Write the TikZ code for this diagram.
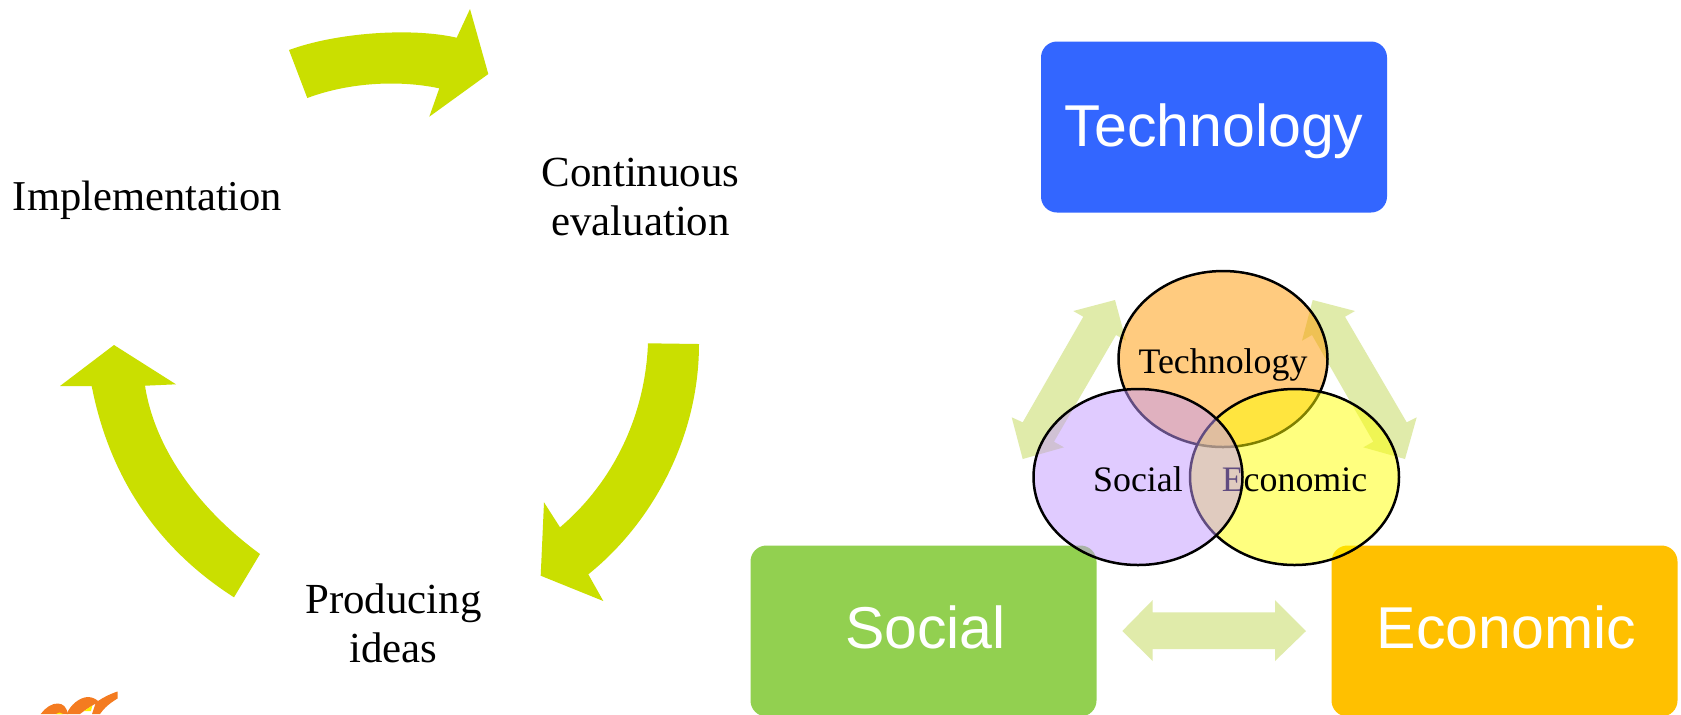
\documentclass[tikz,border=0pt]{standalone}
\usepackage{fontspec}
\setmainfont{Liberation Serif}
\setsansfont{Liberation Sans}
\usetikzlibrary{shapes.geometric}
\definecolor{cyclegreen}{HTML}{CADF00}
\definecolor{palegreen}{HTML}{E0EBAA}
\definecolor{techblue}{HTML}{3366FF}
\definecolor{socialgreen}{HTML}{92D050}
\definecolor{econamber}{HTML}{FFC000}
\definecolor{logoorange}{HTML}{F47B20}
\definecolor{logoyellow}{HTML}{FFF200}
\definecolor{vennorange}{HTML}{FF9900}
\definecolor{vennyellow}{HTML}{FFFF00}
\definecolor{vennviolet}{HTML}{C299FF}
\tikzset{
	cyclearrow/.style={fill=cyclegreen},
	palearrow/.style={fill=palegreen},
	cyclelabel/.style={align=center, font=\fontsize{12.2}{13.9}\selectfont},
	bigbox/.style={rectangle, rounded corners=1.6mm, minimum width=34.6mm, minimum height=17.1mm, inner sep=0pt, text=white, font=\sffamily\fontsize{16.8}{18}\selectfont},
	venn/.style={ellipse, draw=black, line width=0.25mm, minimum width=20.9mm, minimum height=17.6mm, inner sep=0pt, fill opacity=0.5},
	vennlabel/.style={inner sep=0pt, anchor=base, font=\fontsize{10.2}{12}\selectfont}
}
\begin{document}
\begin{tikzpicture}[x=0.1mm, y=-0.1mm]
	%%%%% FRAME %%%%%
	\clip (0, 0) rectangle (1681, 714);
	\fill[white] (0, 0) rectangle (1681, 714);

	%%%%% LEFT CYCLE %%%%%
	\fill[cyclearrow] (289, 50) .. controls (335, 33) and (410, 27) .. (456.7, 37.7) -- (470, 9) -- (488.3, 74) -- (429.3, 116.7) -- (439.3, 88.3) .. controls (400, 80) and (350, 82) .. (307.3, 98) -- cycle;
	\fill[cyclearrow] (699, 344) .. controls (699, 440) and (650, 525) .. (588.3, 574.3) -- (603.3, 601) -- (540.7, 575.7) -- (544, 502.3) -- (560, 527.3) .. controls (610, 485) and (645, 420) .. (648, 343.3) -- cycle;
	\fill[cyclearrow] (234, 597.3) .. controls (160, 550) and (110, 480) .. (91.7, 386) -- (60, 386) -- (114, 345) -- (176, 384.3) -- (145, 385.7) .. controls (155, 450) and (200, 510) .. (260, 554) -- cycle;

	\node[cyclelabel, font=\fontsize{12.1}{13.9}\selectfont] (implementation) at (147.5, 200) {Implementation};
	\node[cyclelabel] (evaluation) at (640.5, 197) {Continuous\\evaluation};
	\node[cyclelabel] (ideas) at (393.5, 623) {Producing\\ideas};

	%%%%% LOGO %%%%%
	\fill[logoorange] (40.7, 714) .. controls (45, 708) and (52, 703) .. (58, 703.5) .. controls (63, 704) and (66, 706) .. (68, 714) -- cycle;
	\fill[logoorange] (66.7, 714) .. controls (70, 705) and (80, 697) .. (88, 697) .. controls (92, 697) and (96, 699) .. (98, 701) .. controls (104, 697) and (110, 694) .. (117.5, 691.5) -- (117.5, 698.5) .. controls (110, 703) and (104, 708) .. (100, 714) -- (92, 714) -- (95.5, 703.5) -- (84, 711) -- (80, 714) -- cycle;
	\fill[logoyellow] (56, 714) .. controls (58, 712) and (61, 712) .. (63, 714) -- cycle;
	\fill[logoyellow] (84, 711) -- (92.3, 705.5) -- (91, 711) -- cycle;

	%%%%% BOXES %%%%%
	\node[bigbox, fill=techblue, text height=14.7pt] (techbox) at (1214, 127) {Technology};
	\node[bigbox, fill=socialgreen, text depth=2pt] (socialbox) at (923.5, 631) {\kern1.1pt Social};
	\node[bigbox, fill=econamber, text depth=2pt] (econbox) at (1504.5, 631) {\kern1.1pt Economic};

	%%%%% PALE ARROWS %%%%%
	\fill[palearrow] (1083.3, 316.7) -- (1073.3, 311) -- (1115, 300) -- (1126, 340.7) -- (1116, 335) -- (1054, 441.7) -- (1064, 447.3) -- (1022.7, 459) -- (1011.7, 417.3) -- (1022.7, 422.3) -- cycle;
	\fill[palearrow] (1345, 316.7) -- (1355, 311) -- (1312.7, 300) -- (1302, 340.7) -- (1312, 335) -- (1373.3, 441.7) -- (1363.3, 447.3) -- (1405, 459) -- (1416.7, 417.3) -- (1406.7, 422.3) -- cycle;
	\fill[palearrow] (1122.3, 631) -- (1152.7, 600) -- (1152.7, 612.3) -- (1275, 612.3) -- (1275, 600) -- (1306, 631) -- (1275, 661) -- (1275, 649) -- (1152.7, 649) -- (1152.7, 661) -- cycle;

	%%%%% VENN %%%%%
	\node[venn, fill=vennorange] (techvenn) at (1223, 359) {};
	\node[vennlabel] (techtext) at (1223, 373.7) {Technology};
	\node[venn, fill=vennyellow] (econvenn) at (1294.5, 477) {};
	\node[vennlabel] (econtext) at (1294.5, 491.7) {Economic};
	\node[venn, fill=vennviolet] (socialvenn) at (1138, 477) {};
	\node[vennlabel] (socialtext) at (1138, 491.7) {Social};
\end{tikzpicture}
\end{document}
